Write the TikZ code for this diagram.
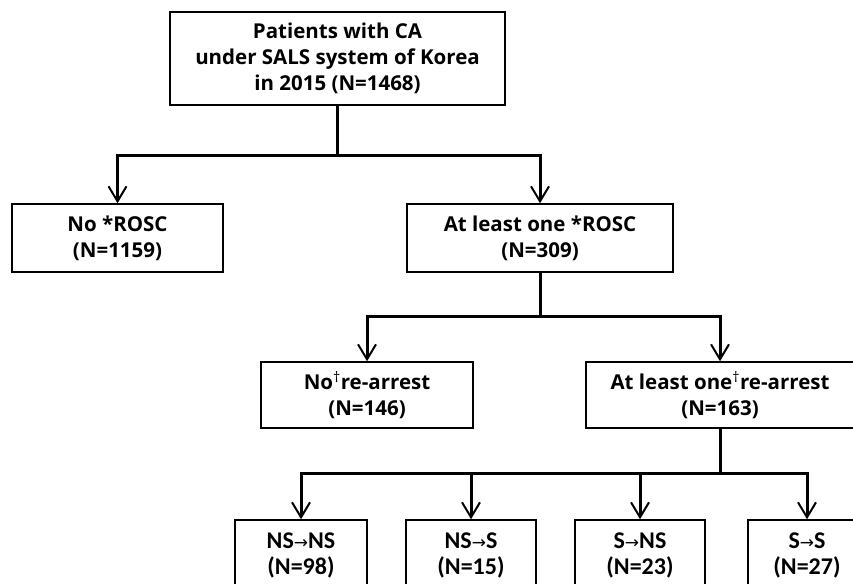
\documentclass[tikz,border=0pt]{standalone}
\usepackage{fontspec}
\setmainfont{Open Sans}
\newfontfamily\calib{Carlito}
\newfontfamily\dejavu{DejaVu Sans}
\usetikzlibrary{arrows.meta}
\newcommand{\rarr}{{\dejavu\mdseries\fontsize{17}{17}\selectfont →}}
\newcommand{\mydag}{\textsuperscript{\mdseries †}}
\begin{document}
\begin{tikzpicture}[x=1pt,y=-1pt,
  box/.style={draw,line width=1.5pt,align=center,inner sep=0pt,
    font=\bfseries\fontsize{20.5}{26}\selectfont},
  lowbox/.style={draw,line width=1.5pt,align=center,inner sep=0pt,
    minimum height=70pt,
    font=\calib\bfseries\fontsize{24}{26}\selectfont},
  conn/.style={line width=3pt},
  arr/.style={conn,-{Straight Barb[length=15pt,width=18pt,line width=2pt]}}]
\useasboundingbox (0,0) rectangle (853,583);
\node[box,minimum width=335pt,minimum height=93pt] (top) at (337.5,58.5)
  {Patients with CA\\under SALS system of Korea\\in 2015 (N=1468)};
\node[box,minimum width=211pt,minimum height=68pt] (norosc) at (117.5,238)
  {No *ROSC\\(N=1159)};
\node[box,minimum width=266pt,minimum height=68pt] (rosc) at (540,238)
  {At least one *ROSC\\(N=309)};
\node[box,minimum width=212pt,minimum height=66pt] (norea) at (367,395)
  {No\mydag re-arrest\\(N=146)};
\node[box,minimum width=268pt,minimum height=66pt] (rea) at (720,395)
  {At least one\mydag re-arrest\\(N=163)};
\node[lowbox,minimum width=132pt] (b1) at (301,555) {NS\rarr NS\\(N=98)};
\node[lowbox,minimum width=130pt] (b2) at (471,555) {NS\rarr S\\(N=15)};
\node[lowbox,minimum width=130pt] (b3) at (640,555) {S\rarr NS\\(N=23)};
\node[lowbox,minimum width=118pt] (b4) at (807,555) {S\rarr S\\(N=27)};
\coordinate (j1) at (top.south |- 0,155);
\coordinate (j2) at (rosc.south |- 0,316);
\coordinate (j3) at (rea.south |- 0,473);
\draw[conn] (top.south) -- (j1);
\draw[arr] (j1) -| (norosc.north);
\draw[arr] (j1) -| (rosc.north);
\draw[conn] (rosc.south) -- (j2);
\draw[arr] (j2) -| (norea.north);
\draw[arr] (j2) -| (rea.north);
\draw[conn] (rea.south) -- (j3);
\draw[arr] (j3) -| (b1.north);
\draw[arr] (j3) -| (b2.north);
\draw[arr] (j3) -| (b3.north);
\draw[arr] (j3) -| (b4.north);
\end{tikzpicture}
\end{document}
